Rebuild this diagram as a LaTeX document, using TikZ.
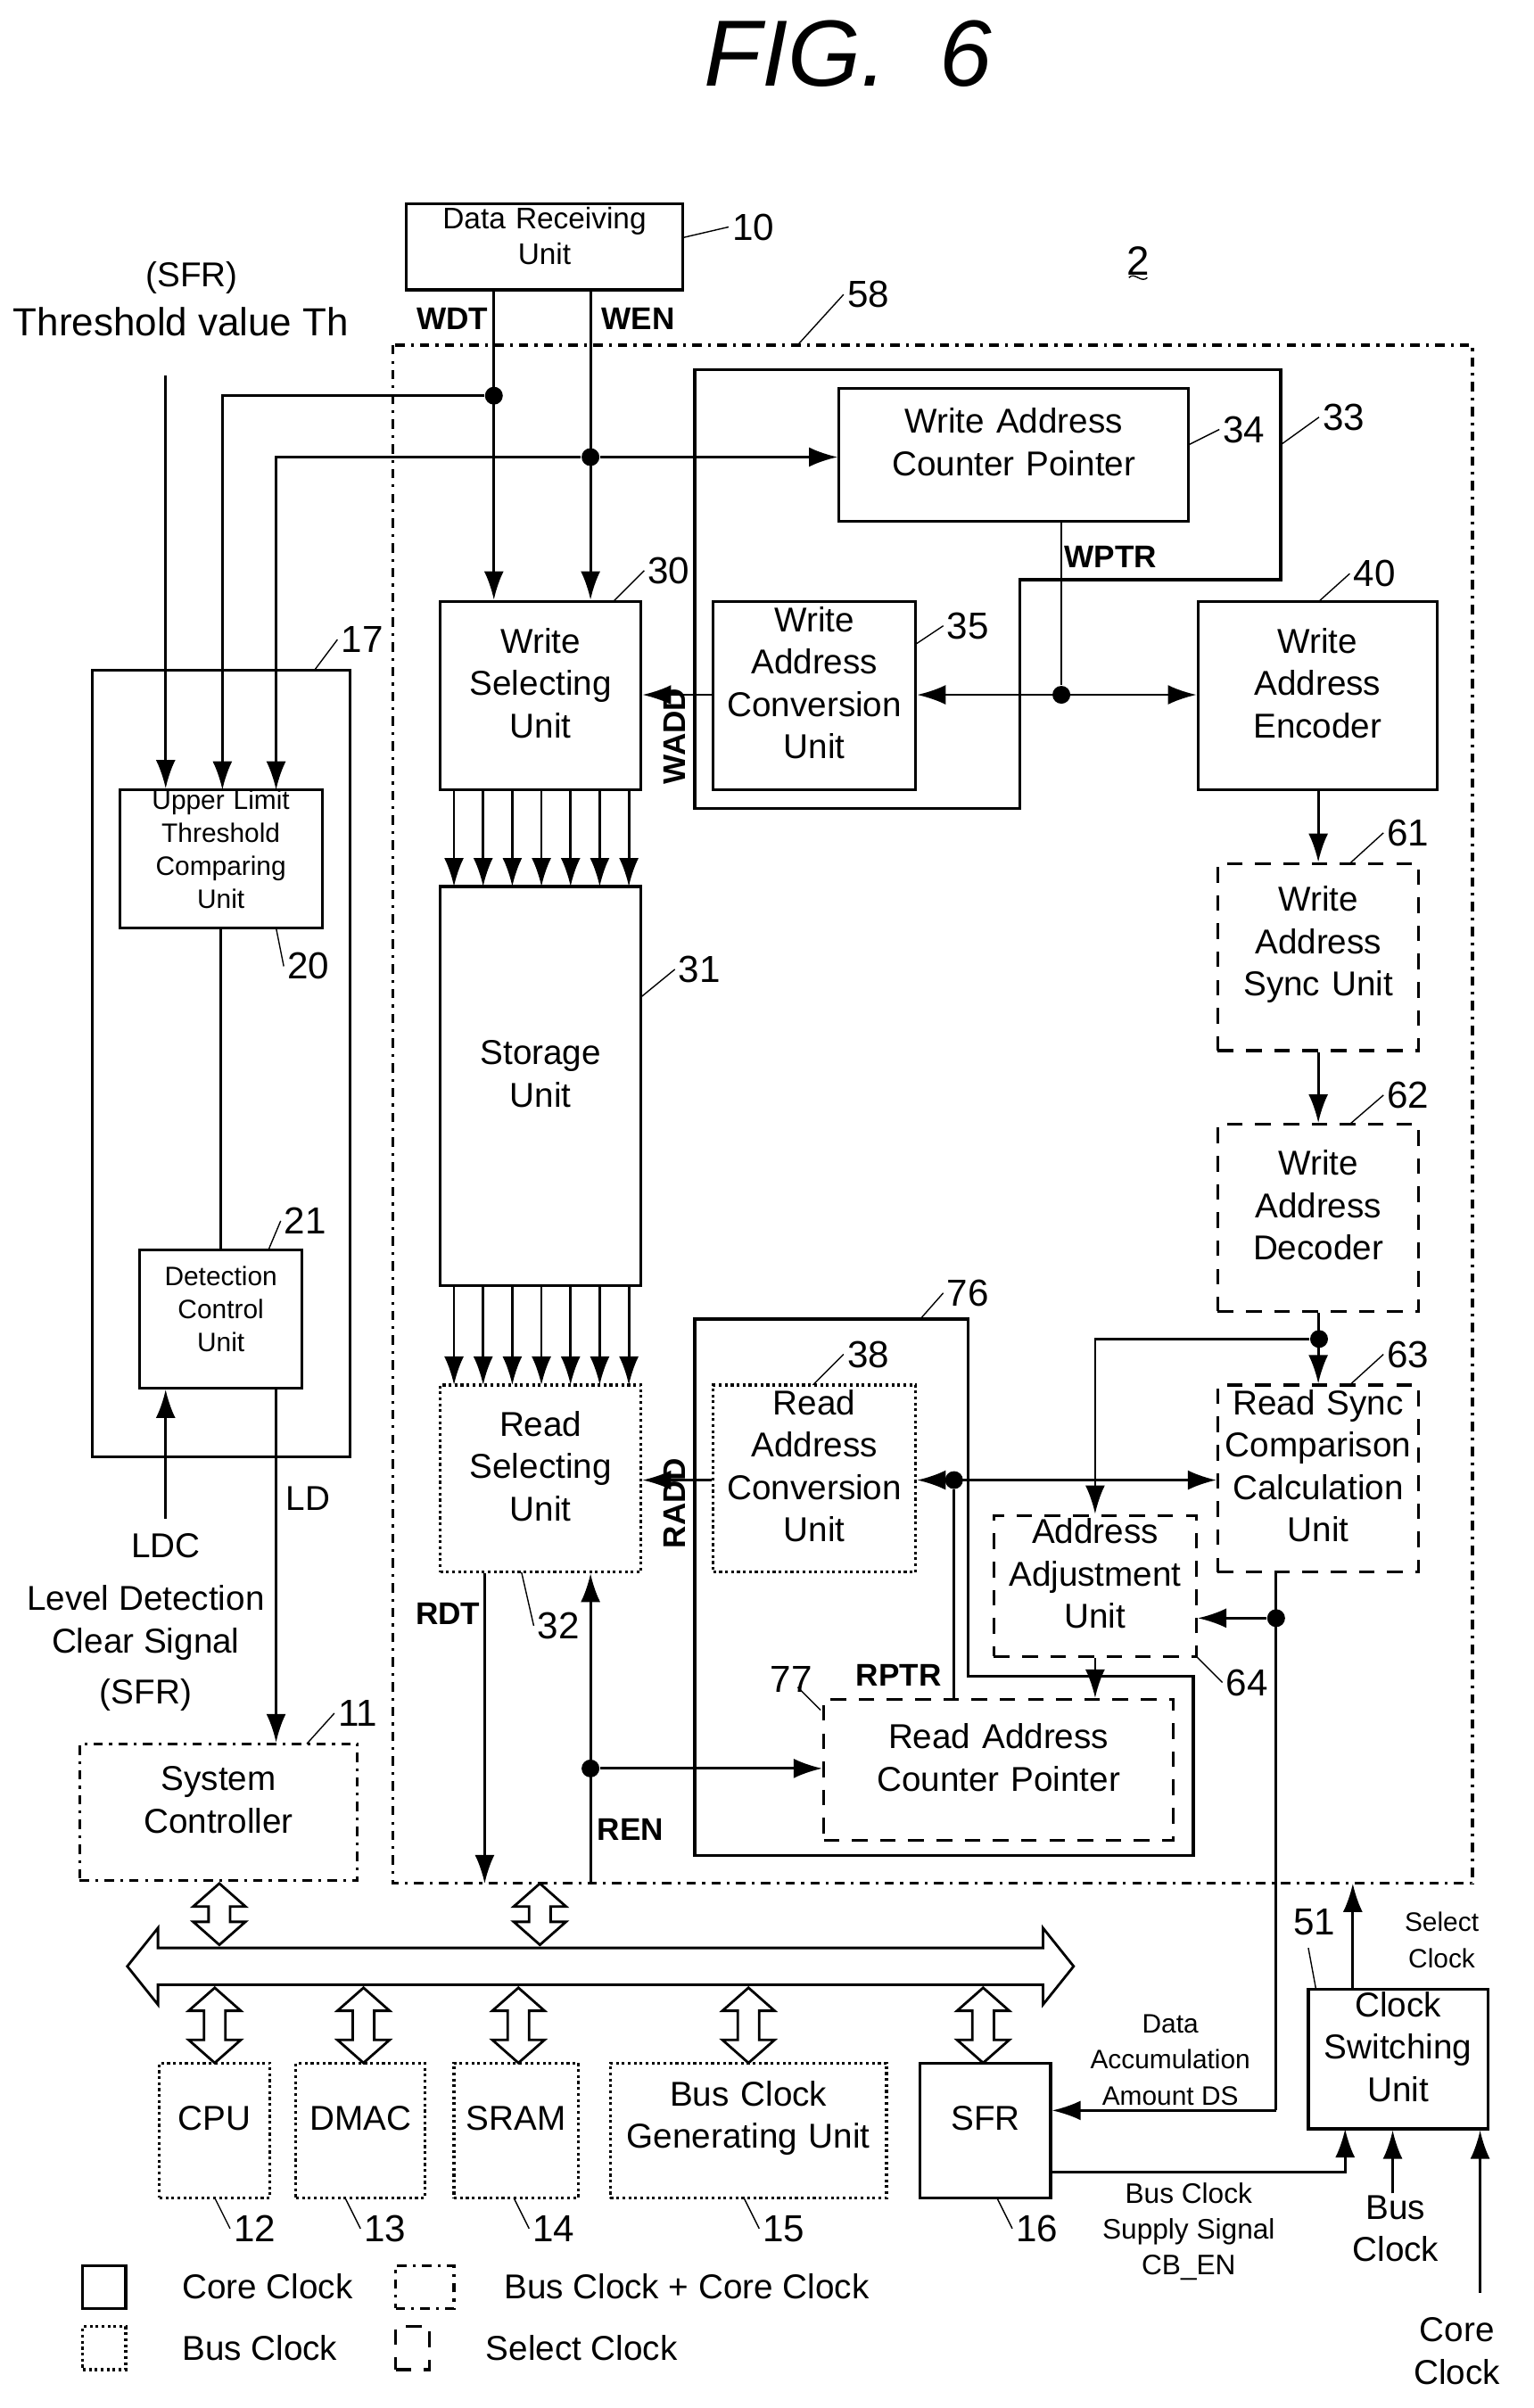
\documentclass[tikz,border=0pt]{standalone}
\usepackage{fontspec}
\setmainfont{Liberation Sans}
\usetikzlibrary{arrows.meta, positioning, fit, calc}

\newcommand{\vbus}[3]{% hollow double arrow, vertical
  \draw[line width=0.8pt, fill=white] (#1-7,#2+15) -- (#1-17,#2+15) -- (#1,#2) -- (#1+17,#2+15) -- (#1+7,#2+15)
    -- (#1+7,#3-15) -- (#1+17,#3-15) -- (#1,#3) -- (#1-17,#3-15) -- (#1-7,#3-15) -- cycle;}
\newcommand{\refnum}[5]{% leader line and number
  \draw[thin] (#1,#2) -- (#3,#4); \node[num, anchor=west] at (#3,#4) {#5};}

\begin{document}
\begin{tikzpicture}[x=0.172mm, y=-0.172mm,
    txt/.style={font=\fontsize{11}{13.5}\selectfont, align=center},
    small/.style={font=\fontsize{8.5}{10.5}\selectfont, align=center},
    num/.style={font=\fontsize{12}{14}\selectfont, inner sep=1pt},
    sig/.style={font=\fontsize{10}{12}\selectfont\bfseries, inner sep=1pt},
    core/.style={draw, line width=0.9pt, inner sep=0pt},
    bus/.style={draw, line width=0.9pt, densely dotted, inner sep=0pt},
    both/.style={draw, line width=0.9pt, dash dot, inner sep=0pt},
    sel/.style={draw, line width=0.9pt, dash pattern=on 5pt off 4pt, inner sep=0pt},
    arr/.style={-{Latex[length=3.2mm, width=2.2mm]}, line width=0.8pt},
    darr/.style={{Latex[length=3.2mm, width=2.2mm]}-{Latex[length=3.2mm, width=2.2mm]}, line width=0.8pt},
    ln/.style={line width=0.8pt},
    dot/.style={circle, fill, inner sep=0pt, minimum size=2mm}
]
\useasboundingbox (0,0) rectangle (1000,1570);

% Title
\node[font=\fontsize{30}{34}\selectfont\itshape] (title) at (553,35) {FIG.\ \ 6};
\node[font=\fontsize{13}{15}\selectfont] (two) at (742,170) {2};
\draw[thin] (736,181) .. controls (740,177) and (744,185) .. (748,181);

% Outer frames
\draw[line width=0.9pt, dash dot] (256,225) rectangle (960,1228);
\refnum{520}{225}{550}{192}{58}
\draw[core] (453,241) -- (835,241) -- (835,378) -- (665,378) -- (665,527) -- (453,527) -- cycle;
\refnum{835}{290}{860}{272}{33}
\draw[core] (453,860) -- (631,860) -- (631,1093) -- (778,1093) -- (778,1210) -- (453,1210) -- cycle;
\refnum{600}{860}{615}{843}{76}
\node[core, fit={(60,437) (228,950)}] (lvl) {};
\refnum{205}{437}{220}{417}{17}

% Units
\node[core, fit={(265,133) (445,189)}, small, font=\fontsize{9.5}{11.5}\selectfont] (rx) {Data Receiving\\Unit};
\refnum{445}{155}{475}{148}{10}
\node[core, fit={(547,253) (775,340)}, txt] (wacp) {Write Address\\Counter Pointer};
\refnum{775}{290}{795}{280}{34}
\node[core, fit={(287,392) (418,515)}, txt] (wsel) {Write\\Selecting\\Unit};
\refnum{400}{392}{420}{372}{30}
\node[core, fit={(465,392) (597,515)}, txt] (wconv) {Write\\Address\\Conversion\\Unit};
\refnum{597}{420}{615}{408}{35}
\node[core, fit={(781,392) (937,515)}, txt] (wenc) {Write\\Address\\Encoder};
\refnum{860}{392}{880}{374}{40}
\node[core, fit={(287,578) (418,838)}, txt] (stor) {Storage\\Unit};
\refnum{418}{650}{440}{632}{31}
\node[bus, fit={(287,903) (418,1025)}, txt] (rsel) {Read\\Selecting\\Unit};
\refnum{340}{1025}{348}{1060}{32}
\node[sel, fit={(794,563) (925,685)}, txt] (wsync) {Write\\Address\\Sync Unit};
\refnum{880}{563}{902}{543}{61}
\node[sel, fit={(794,733) (925,855)}, txt] (wdec) {Write\\Address\\Decoder};
\refnum{880}{733}{902}{714}{62}
\node[sel, fit={(794,903) (925,1025)}, txt] (rsync) {Read Sync\\Comparison\\Calculation\\Unit};
\refnum{880}{903}{902}{883}{63}
\node[bus, fit={(465,903) (597,1025)}, txt] (rconv) {Read\\Address\\Conversion\\Unit};
\refnum{530}{903}{550}{883}{38}
\node[sel, fit={(648,988) (780,1080)}, txt] (adj) {Address\\Adjustment\\Unit};
\refnum{780}{1080}{797}{1097}{64}
\node[sel, fit={(537,1108) (765,1200)}, txt] (racp) {Read Address\\Counter Pointer};
\draw[thin] (535,1115) -- (520,1100); \node[num] at (516,1095) {77};
\node[core, fit={(78,515) (210,605)}, small] (ulim) {Upper Limit\\Threshold\\Comparing\\Unit};
\refnum{180}{605}{185}{630}{20}
\node[core, fit={(91,815) (197,905)}, small] (det) {Detection\\Control\\Unit};
\refnum{175}{815}{183}{796}{21}
\node[both, fit={(52,1137) (233,1226)}, txt] (sysc) {System\\Controller};
\refnum{200}{1137}{218}{1117}{11}

% Write side connectors
\node[txt] (sfrth) at (125,181) {(SFR)};
\node[txt, font=\fontsize{12.5}{15}\selectfont] (th) at (118,210) {Threshold value Th};
\coordinate (thtop) at (108,245);
\draw[arr] (thtop) -- (thtop |- ulim.north);
\node[sig] at (295,208) {WDT};
\node[sig] at (416,208) {WEN};
\node[dot] (dwdt) at (322,258) {};
\node[dot] (dwen) at (385,298) {};
\draw[arr] (rx.south -| dwdt) -- (wsel.north -| dwdt);
\draw[arr] (rx.south -| dwen) -- (wsel.north -| dwen);
\draw[arr] (dwdt) -| (145,515);
\draw[arr] (dwen) -| (180,515);
\draw[arr] (dwen) -- (wacp.west |- dwen);
\node[dot] (dwptr) at (692,453) {};
\draw[ln] (wacp.south -| dwptr) -- (dwptr);
\node[sig] at (724,363) {WPTR};
\draw[arr] (wconv.west |- dwptr) -- (wsel.east |- dwptr);
\draw[darr] (wconv.east |- dwptr) -- (wenc.west |- dwptr);
\node[sig, rotate=90] at (440,480) {WADD};
\foreach \x in {296,315,334,353,372,391,410} {
  \draw[arr] (\x,515) -- (\x,578);
  \draw[arr] (\x,838) -- (\x,903);
}
\draw[arr] (wenc.south -| wsync) -- (wsync.north);
\draw[arr] (wsync.south) -- (wdec.north);

% Level detection
\draw[ln] (ulim.south -| 144,0) -- (det.north -| 144,0);
\coordinate (ldc) at (108,990);
\draw[arr] (ldc) -- (det.south -| ldc);
\node[txt] at (108,1008) {LDC};
\node[txt] at (95,1058) {Level Detection\\Clear Signal};
\node[txt] at (95,1105) {(SFR)};
\draw[arr] (det.south -| 180,0) -- (sysc.north -| 180,0);
\node[txt] at (201,977) {LD};

% Read side connectors
\node[dot] (drs) at (860,873) {};
\draw[arr] (wdec.south) -- (rsync.north);
\draw[arr] (drs) -| (adj.north);
\node[dot] (drptr) at (622,965) {};
\draw[arr] (rconv.west |- drptr) -- (rsel.east |- drptr);
\draw[darr] (rconv.east |- drptr) -- (rsync.west |- drptr);
\draw[ln] (drptr) -- (racp.north -| drptr);
\node[sig] at (586,1092) {RPTR};
\node[sig, rotate=90] at (440,980) {RADD};
\draw[arr] (adj.south) -- (racp.north -| adj.south);
\node[dot] (dds) at (832,1055) {};
\draw[arr] (dds) -- (adj.east |- dds);
\coordinate (rdt) at (316,1228);
\draw[arr] (rsel.south -| rdt) -- (rdt);
\node[sig] at (292,1052) {RDT};
\coordinate (ren) at (385,1228);
\node[dot] (dren) at (385,1153) {};
\draw[arr] (ren) -- (rsel.south -| ren);
\draw[arr] (dren) -- (racp.west |- dren);
\node[sig] at (411,1193) {REN};

% Bus
\draw[line width=0.8pt, fill=white] (83,1282) -- (103,1257) -- (103,1270) -- (680,1270) -- (680,1257) -- (700,1282)
  -- (680,1307) -- (680,1294) -- (103,1294) -- (103,1307) -- cycle;
\vbus{143}{1228}{1268}
\vbus{352}{1228}{1268}
\foreach \x in {140,237,338,488,641} {\vbus{\x}{1296}{1345}}

\node[bus, fit={(104,1345) (176,1433)}, txt] (cpu) {CPU};
\node[bus, fit={(193,1345) (277,1433)}, txt] (dmac) {DMAC};
\node[bus, fit={(296,1345) (377,1433)}, txt] (sram) {SRAM};
\node[bus, fit={(398,1345) (578,1433)}, txt] (bcg) {Bus Clock\\Generating Unit};
\node[core, fit={(600,1345) (685,1433)}, txt] (sfr) {SFR};
\refnum{140}{1433}{150}{1453}{12}
\refnum{225}{1433}{235}{1453}{13}
\refnum{335}{1433}{345}{1453}{14}
\refnum{485}{1433}{495}{1453}{15}
\refnum{650}{1433}{660}{1453}{16}

\node[core, fit={(853,1297) (970,1388)}, txt] (csw) {Clock\\Switching\\Unit};
\draw[thin] (858,1297) -- (853,1270); \node[num] at (857,1253) {51};
\draw[arr] (csw.north -| 882,0) -- (882,1228);
\node[small, font=\fontsize{8.5}{11.5}\selectfont] at (940,1265) {Select\\Clock};

\draw[ln] (rsync.south -| dds) -- (832,1376);
\draw[arr] (832,1376) -- (sfr.east |- 832,1376);
\node[small, font=\fontsize{8.5}{11.5}\selectfont] at (763,1343) {Data\\Accumulation\\Amount DS};
\draw[arr] (sfr.east |- 0,1416) -| (877,1388);
\node[small, font=\fontsize{9}{11.5}\selectfont] at (775,1455) {Bus Clock\\Supply Signal\\CB\_EN};
\coordinate (bclk) at (908,1430);
\draw[arr] (bclk) -- (csw.south -| bclk);
\node[txt] at (910,1453) {Bus\\Clock};
\coordinate (cclk) at (965,1495);
\draw[arr] (cclk) -- (csw.south -| cclk);
\node[txt] at (950,1533) {Core\\Clock};

% Legend
\node[core, minimum size=0pt, fit={(54,1477) (82,1505)}] (lg1) {};
\node[txt, right=14pt of lg1] {Core Clock};
\node[bus, fit={(54,1517) (82,1545)}] (lg2) {};
\node[txt, right=14pt of lg2] {Bus Clock};
\node[both, fit={(258,1477) (296,1505)}] (lg3) {};
\node[txt, right=12pt of lg3] {Bus Clock + Core Clock};
\node[sel, fit={(258,1517) (280,1545)}] (lg4) {};
\node[txt, right=14pt of lg4] {Select Clock};
\end{tikzpicture}
\end{document}
